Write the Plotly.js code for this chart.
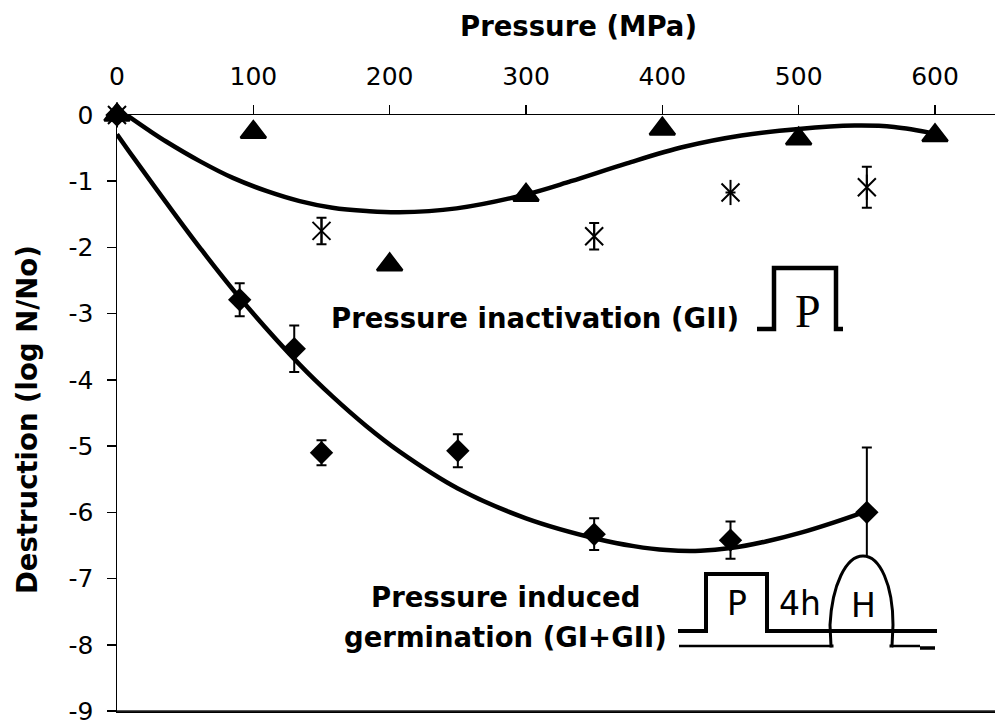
<!DOCTYPE html>
<html><head><meta charset="utf-8">
<script src="https://cdn.plot.ly/plotly-3.0.1.min.js"></script>
<style>html,body{margin:0;padding:0;background:#fff;}#chart{width:995px;height:727px;}</style>
</head><body><div id="chart"></div>
<script>
// ---- data ----
const triPressure = [0, 100, 200, 300, 400, 500, 600];
const triLogN     = [0, -0.26, -2.26, -1.21, -0.21, -0.36, -0.31];

const astPressure = [0, 150, 350, 450, 550];
const astLogN     = [0, -1.75, -1.83, -1.17, -1.09];
const astErr      = [null, 0.20, 0.20, null, 0.31];

const diaPressure = [0, 90, 130, 150, 250, 350, 450, 550];
const diaLogN     = [0, -2.79, -3.53, -5.10, -5.07, -6.33, -6.42, -6.00];
const diaErr      = [null, 0.25, 0.35, 0.19, 0.25, 0.24, 0.28, 0.98];

// trendlines
const fitInactX = [5, 24, 36, 61, 85, 110, 134, 158, 183, 207, 249, 300, 333, 374, 416, 458, 500, 541, 570, 600];
const fitInactY = [0.03, -0.24, -0.40, -0.70, -0.95, -1.15, -1.30, -1.40, -1.45, -1.47, -1.41, -1.20, -1.00, -0.73, -0.48, -0.31, -0.21, -0.16, -0.18, -0.28];

const fitGermX = [0, 12, 36, 61, 90, 134, 158, 183, 207, 250, 300, 354, 379, 403, 428, 450, 476, 501, 526, 550];
const fitGermY = [-0.29, -0.64, -1.32, -2.01, -2.76, -3.77, -4.25, -4.70, -5.08, -5.64, -6.09, -6.41, -6.51, -6.57, -6.58, -6.54, -6.44, -6.31, -6.15, -5.98];

const xTickVals = [0, 100, 200, 300, 400, 500, 600];
const xTickText = ['0', '100', '200', '300', '400', '500', '600'];
const yTickVals = [0, -1, -2, -3, -4, -5, -6, -7, -8, -9];
const yTickText = ['0', '-1', '-2', '-3', '-4', '-5', '-6', '-7', '-8', '-9'];

// ---- layout geometry ----
const L = 117, T = 115, W = 878, H = 596;
const XR = [0, 644], YR = [-9, 0];
function dx(px) { return XR[0] + (px - L) / W * (XR[1] - XR[0]); }
function dy(py) { return YR[1] - (py - T) / H * (YR[1] - YR[0]); }
function px2paperX(px) { return (px - L) / W; }
function px2paperY(py) { return (T + H - py) / H; }
function path(cmds) {
  return cmds.map(c => {
    const k = c[0]; const pts = [];
    for (let i = 1; i < c.length; i += 2) pts.push(dx(c[i]).toFixed(3) + ',' + dy(c[i + 1]).toFixed(4));
    return k + pts.join(' ');
  }).join(' ');
}

const FONT = 'DejaVu Sans';
const traces = [
  { x: fitInactX, y: fitInactY, mode: 'lines', line: { color: '#000', width: 4.5, shape: 'spline', smoothing: 1 }, cliponaxis: false, hoverinfo: 'skip' },
  { x: fitGermX, y: fitGermY, mode: 'lines', line: { color: '#000', width: 4.5, shape: 'spline', smoothing: 1 }, cliponaxis: false, hoverinfo: 'skip' },
  { x: diaPressure, y: diaLogN, mode: 'markers', cliponaxis: false,
    marker: { symbol: 'diamond', size: 18, color: '#000' },
    error_y: { type: 'data', array: diaErr, visible: true, color: '#000', thickness: 2, width: 5 } },
  { x: triPressure, y: triLogN, mode: 'markers', cliponaxis: false,
    marker: { symbol: 'triangle-up', size: 22, color: '#000', line: { color: '#000', width: 2.5 } } },
  { x: astPressure, y: astLogN, mode: 'markers', cliponaxis: false,
    marker: { symbol: 'x-thin-open', size: 18, color: '#000', line: { color: '#000', width: 2 } },
    error_y: { type: 'data', array: astErr, visible: true, color: '#000', thickness: 2, width: 5 } },
  { x: astPressure, y: astLogN, mode: 'markers', cliponaxis: false,
    marker: { symbol: 'line-ns-open', size: 18, color: '#000', line: { color: '#000', width: 2 } } }
];

const shapes = [
  // bottom frame line
  { type: 'line', xref: 'paper', yref: 'paper', x0: 0, x1: 1, y0: 0, y1: 0, layer: 'above',
    line: { color: '#222', width: 1.5 } },
  // pulse for pressure inactivation
  { type: 'path', xref: 'x', yref: 'y', layer: 'above',
    path: path([['M', 757, 329], ['L', 774, 329], ['L', 774, 268], ['L', 836, 268], ['L', 836, 329], ['L', 843, 329]]),
    line: { color: '#000', width: 4.5 } },
  // arch (heat), white filled
  { type: 'path', xref: 'x', yref: 'y', layer: 'above',
    path: path([['M', 831, 646], ['L', 830, 625], ['C', 832, 585, 846, 556, 863, 556], ['C', 880, 556, 893, 585, 893, 625], ['L', 892, 646]]) + ' Z',
    fillcolor: '#fff', line: { color: '#000', width: 3 } },
  // cover the arch bottom edge (keep only legs)
  { type: 'path', xref: 'x', yref: 'y', layer: 'above',
    path: path([['M', 833.5, 646], ['L', 889.5, 646]]), line: { color: '#fff', width: 4 } },
  // germination pulse line
  { type: 'path', xref: 'x', yref: 'y', layer: 'above',
    path: path([['M', 678, 631], ['L', 706, 631], ['L', 706, 574], ['L', 767, 574], ['L', 767, 631], ['L', 937, 631]]),
    line: { color: '#000', width: 4 } },
  // lower thin baseline
  { type: 'path', xref: 'x', yref: 'y', layer: 'above',
    path: path([['M', 679, 646], ['L', 832, 646]]), line: { color: '#000', width: 2.5 } },
  { type: 'path', xref: 'x', yref: 'y', layer: 'above',
    path: path([['M', 892, 646], ['L', 920, 646]]), line: { color: '#000', width: 2.5 } },
  { type: 'path', xref: 'x', yref: 'y', layer: 'above',
    path: path([['M', 920, 648], ['L', 935, 648]]), line: { color: '#000', width: 3.5 } }
];

function ann(text, px, py, size, opts) {
  return Object.assign({ text: text, xref: 'paper', yref: 'paper', x: px2paperX(px), y: px2paperY(py),
    xanchor: 'center', yanchor: 'middle', showarrow: false,
    font: { family: FONT, size: size, color: '#000' } }, opts || {});
}

const annotations = [
  ann('<b>Pressure (MPa)</b>', 578, 26, 27.5),
  ann('<b>Destruction (log N/No)</b>', 27, 420, 27.5, { textangle: -90 }),
  ann('<b>Pressure inactivation (GII)</b>', 535, 318, 27.5),
  ann('<b>Pressure induced</b>', 505, 597, 27.5),
  ann('<b>germination (GI+GII)</b>', 505, 637, 27.5),
  ann('P', 808, 311, 46, { font: { family: 'Liberation Serif', size: 46, color: '#000' } }),
  ann('P', 737, 603, 33),
  ann('4h', 800, 603, 33),
  ann('H', 863, 605, 33)
];

const layout = {
  width: 995, height: 727, autosize: false,
  margin: { l: L, r: 995 - L - W, t: T, b: 727 - T - H, pad: 0 },
  paper_bgcolor: '#fff', plot_bgcolor: '#fff',
  showlegend: false, hovermode: false,
  xaxis: { range: XR, side: 'top', tickmode: 'array', tickvals: xTickVals, ticktext: xTickText,
    ticks: 'outside', ticklen: 9, tickwidth: 1.5, tickcolor: '#000',
    showline: true, linecolor: '#000', linewidth: 1.5, mirror: true,
    showgrid: false, zeroline: false, ticklabelstandoff: 10, ticklabeloverflow: 'allow',
    tickfont: { family: FONT, size: 25, color: '#000' } },
  yaxis: { range: YR, tickmode: 'array', tickvals: yTickVals, ticktext: yTickText,
    ticks: 'outside', ticklen: 9, tickwidth: 1.5, tickcolor: '#000',
    showline: true, linecolor: '#000', linewidth: 1.5,
    showgrid: false, zeroline: false, ticklabelstandoff: 8, ticklabeloverflow: 'allow',
    tickfont: { family: FONT, size: 25, color: '#000' } },
  shapes: shapes,
  annotations: annotations
};

Plotly.newPlot('chart', traces, layout, { staticPlot: true, displayModeBar: false });
</script>
</body></html>
